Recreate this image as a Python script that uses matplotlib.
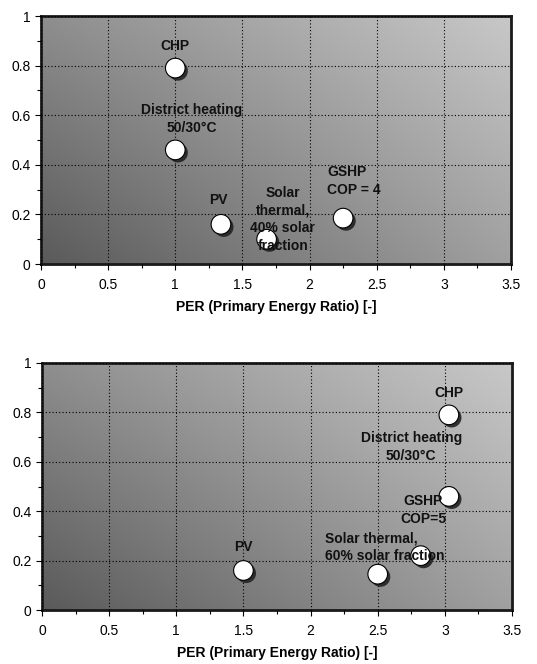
import matplotlib
matplotlib.use('Agg')
import matplotlib.pyplot as plt
import matplotlib.patheffects as pe
from matplotlib.ticker import MultipleLocator
import numpy as np

plt.rcParams['font.family'] = ['Liberation Sans', 'DejaVu Sans']

# top panel
top_x = [1.0, 1.0, 1.34, 1.68, 2.25]
top_y = [0.79, 0.46, 0.16, 0.10, 0.185]
top_labels = ['CHP', 'District heating\n50/30\u00b0C', 'PV',
              'Solar\nthermal,\n40% solar\nfraction', 'GSHP\nCOP = 4']
top_label_pos = [(1.0, 0.88, 'center'), (1.12, 0.585, 'center'),
                 (1.32, 0.26, 'center'), (1.80, 0.18, 'center'),
                 (2.13, 0.335, 'left')]

# bottom panel
bot_x = [1.5, 2.5, 2.82, 3.03, 3.03]
bot_y = [0.16, 0.145, 0.22, 0.46, 0.79]
bot_labels = ['PV', 'Solar thermal,\n60% solar fraction', 'GSHP\nCOP=5',
              'District heating\n50/30\u00b0C', 'CHP']
bot_label_pos = [(1.5, 0.255, 'center'), (2.11, 0.255, 'left'),
                 (2.84, 0.405, 'center'), (2.75, 0.66, 'center'),
                 (3.03, 0.88, 'center')]

xlabel = 'PER (Primary Energy Ratio) [-]'


def gradient(ax):
    fx = np.linspace(0, 1, 200)
    fy = np.linspace(0, 1, 200)
    X, Y = np.meshgrid(fx, fy)
    # bottom-left dark, top-right light
    val = 0x5a + (0xa0 - 0x5a) * X + (0x8e - 0x5a) * Y + (0xc8 - 0xa0 - 0x8e + 0x5a) * X * Y
    img = np.dstack([val, val, val]) / 255.0
    ax.imshow(img, extent=[0, 1, 0, 1], transform=ax.transAxes, origin='lower',
              aspect='auto', zorder=0, interpolation='bilinear')


def panel(ax, xs, ys, labels, label_pos):
    gradient(ax)
    ax.set_xlim(0, 3.5)
    ax.set_ylim(0, 1)
    ax.xaxis.set_major_locator(MultipleLocator(0.5))
    ax.xaxis.set_minor_locator(MultipleLocator(0.25))
    ax.yaxis.set_major_locator(MultipleLocator(0.2))
    ax.yaxis.set_minor_locator(MultipleLocator(0.1))
    ax.xaxis.set_major_formatter(plt.FuncFormatter(lambda v, p: ('%g' % v)))
    ax.yaxis.set_major_formatter(plt.FuncFormatter(lambda v, p: ('%g' % v)))
    ax.grid(True, which='major', color='black', linestyle=(0, (1, 2)), linewidth=0.8, zorder=1)
    ax.set_axisbelow(False)
    ax.tick_params(which='both', direction='out', length=4, width=0.8, labelsize=10)
    ax.tick_params(which='minor', length=3)
    ax.tick_params(axis='x', pad=6)
    for s in ax.spines.values():
        s.set_linewidth(2)
        s.set_color('#1a1a1a')
    ax.scatter(xs, ys, s=200, c='white', edgecolors='black', linewidths=0.8, zorder=3,
               path_effects=[pe.SimplePatchShadow(offset=(2, -2), shadow_rgbFace='#222222', alpha=0.9),
                             pe.Normal()])
    for lab, (lx, ly, ha) in zip(labels, label_pos):
        ax.text(lx, ly, lab, ha=ha, va='center', fontsize=10, fontweight='bold',
                linespacing=1.35, zorder=4, color='#111111')
    ax.set_xlabel(xlabel, fontsize=10, fontweight='bold', labelpad=6)


fig = plt.figure(figsize=(5.37, 6.64), dpi=100)
ax1 = fig.add_axes([41 / 537, 1 - 264 / 664, 470 / 537, 248 / 664])
ax2 = fig.add_axes([42 / 537, 1 - 610 / 664, 470 / 537, 247 / 664])
panel(ax1, top_x, top_y, top_labels, top_label_pos)
panel(ax2, bot_x, bot_y, bot_labels, bot_label_pos)

fig.savefig('out.png', dpi=100, facecolor='white')
